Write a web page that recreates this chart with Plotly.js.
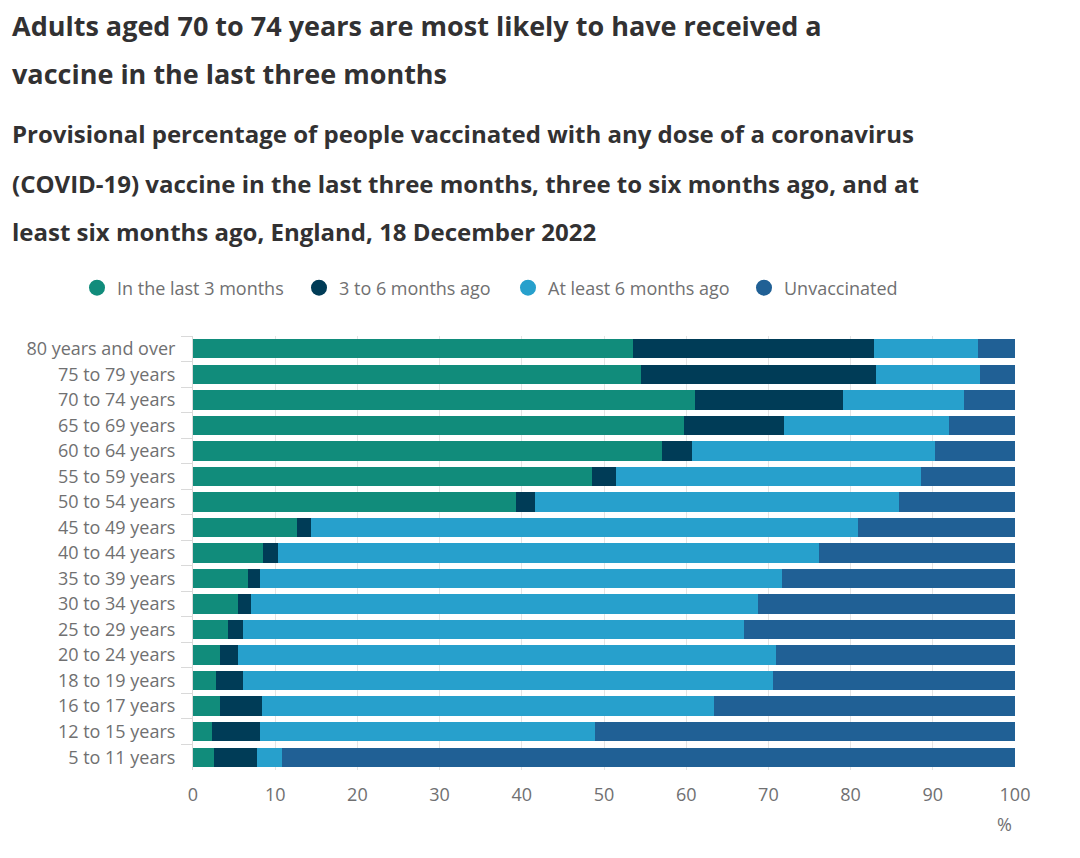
<!DOCTYPE html>
<html>
<head>
<meta charset="utf-8">
<script src="https://cdn.plot.ly/plotly-3.0.1.min.js"></script>
<style>
html,body{margin:0;padding:0;background:#fff;}
#chart{width:1080px;height:858px;}
</style>
</head>
<body>
<div id="chart"></div>
<script>
var categories = ["80 years and over","75 to 79 years","70 to 74 years","65 to 69 years","60 to 64 years","55 to 59 years","50 to 54 years","45 to 49 years","40 to 44 years","35 to 39 years","30 to 34 years","25 to 29 years","20 to 24 years","18 to 19 years","16 to 17 years","12 to 15 years","5 to 11 years"];
var seriesNames = ["In the last 3 months","3 to 6 months ago","At least 6 months ago","Unvaccinated"];
var last3Months   = [53.5, 54.5, 61.1, 59.7, 57.1, 48.5, 39.3, 12.7, 8.5, 6.7, 5.5, 4.3, 3.3, 2.8, 3.3, 2.3, 2.5];
var threeToSix    = [29.3, 28.6, 18.0, 12.2, 3.6, 2.9, 2.3, 1.7, 1.8, 1.5, 1.6, 1.8, 2.2, 3.3, 5.1, 5.8, 5.3];
var atLeastSix    = [12.7, 12.6, 14.7, 20.1, 29.6, 37.2, 44.3, 66.5, 65.9, 63.4, 61.6, 60.9, 65.4, 64.4, 55.0, 40.8, 3.0];
var unvaccinated  = [4.5, 4.3, 6.2, 8.0, 9.7, 11.4, 14.1, 19.1, 23.8, 28.4, 31.3, 33.0, 29.1, 29.5, 36.6, 51.1, 89.2];
var xTickVals = [0,10,20,30,40,50,60,70,80,90,100];

var colors = ["#118c7b","#003c57","#27a0cc","#206095"];
var seriesValues = [last3Months, threeToSix, atLeastSix, unvaccinated];
var legendIds = ["legend","legend2","legend3","legend4"];
var legendLeft = [77, 299, 508, 744];

var traces = [];
seriesValues.forEach(function(vals, i){
  traces.push({
    type: "bar", orientation: "h",
    x: vals, y: categories,
    name: seriesNames[i],
    marker: {color: colors[i], line: {width: 0}},
    showlegend: false,
    hovertemplate: "%{y}: %{x}%<extra>" + seriesNames[i] + "</extra>"
  });
});
seriesNames.forEach(function(n, i){
  traces.push({
    type: "scatter", mode: "markers",
    x: [null], y: [null], name: n, legend: legendIds[i],
    marker: {color: colors[i], size: 17, symbol: "circle"},
    showlegend: true, hoverinfo: "skip"
  });
});

var titleFont = {family: "Open Sans, sans-serif", size: 27, color: "#323132", weight: 700};
var subFont = {family: "Open Sans, sans-serif", size: 24, color: "#323132", weight: 700};
function lineAnn(text, y, font){
  return {text: text, xref: "paper", yref: "paper", x: 0, xshift: -183, y: 1, yshift: y,
          xanchor: "left", yanchor: "middle", showarrow: false, font: font, align: "left"};
}
var annotations = [
  lineAnn("<b>Adults aged 70 to 74 years are most likely to have received a</b>", 336-25, titleFont),
  lineAnn("<b>vaccine in the last three months</b>", 336-73, titleFont),
  lineAnn("<b>Provisional percentage of people vaccinated with any dose of a coronavirus</b>", 336-133, subFont),
  lineAnn("<b>(COVID-19) vaccine in the last three months, three to six months ago, and at</b>", 336-183, subFont),
  lineAnn("<b>least six months ago, England, 18 December 2022</b>", 336-231, subFont),
  {text: "%", xref: "paper", yref: "paper", x: 1, xshift: -11, y: 0, yshift: -54,
   xanchor: "center", yanchor: "middle", showarrow: false,
   font: {family: "Open Sans, sans-serif", size: 18, color: "#707071"}}
];

var layout = {
  width: 1080, height: 858,
  margin: {l: 193, r: 65, t: 336, b: 88, pad: 0},
  paper_bgcolor: "#ffffff", plot_bgcolor: "#ffffff",
  barmode: "stack", bargap: 0.24,
  font: {family: "Open Sans, sans-serif", color: "#707071"},
  xaxis: {
    range: [0, 100], tickvals: xTickVals, ticks: "", showgrid: true,
    gridcolor: "#e4e4e4", gridwidth: 1, zeroline: false, showline: false,
    ticklabelstandoff: 12,
    tickfont: {size: 18, color: "#707071"}, fixedrange: true
  },
  yaxis: {
    type: "category", autorange: "reversed", ticks: "outside", tickson: "boundaries",
    ticklen: 11, tickcolor: "#d9d9d9", tickwidth: 1, showline: true, linecolor: "#d9d9d9",
    linewidth: 1, showgrid: false, zeroline: false, ticklabelstandoff: 13,
    tickfont: {size: 18, color: "#707071"}, fixedrange: true
  },
  annotations: annotations,
  showlegend: true
};
legendIds.forEach(function(id, i){
  layout[id] = {
    orientation: "h", xref: "container", yref: "container",
    x: legendLeft[i]/1080, xanchor: "left",
    y: 1 - 288/858, yanchor: "middle",
    font: {size: 18, color: "#707071"}, itemwidth: 30,
    bgcolor: "rgba(0,0,0,0)"
  };
});

Plotly.newPlot("chart", traces, layout, {displayModeBar: false});
</script>
</body>
</html>
